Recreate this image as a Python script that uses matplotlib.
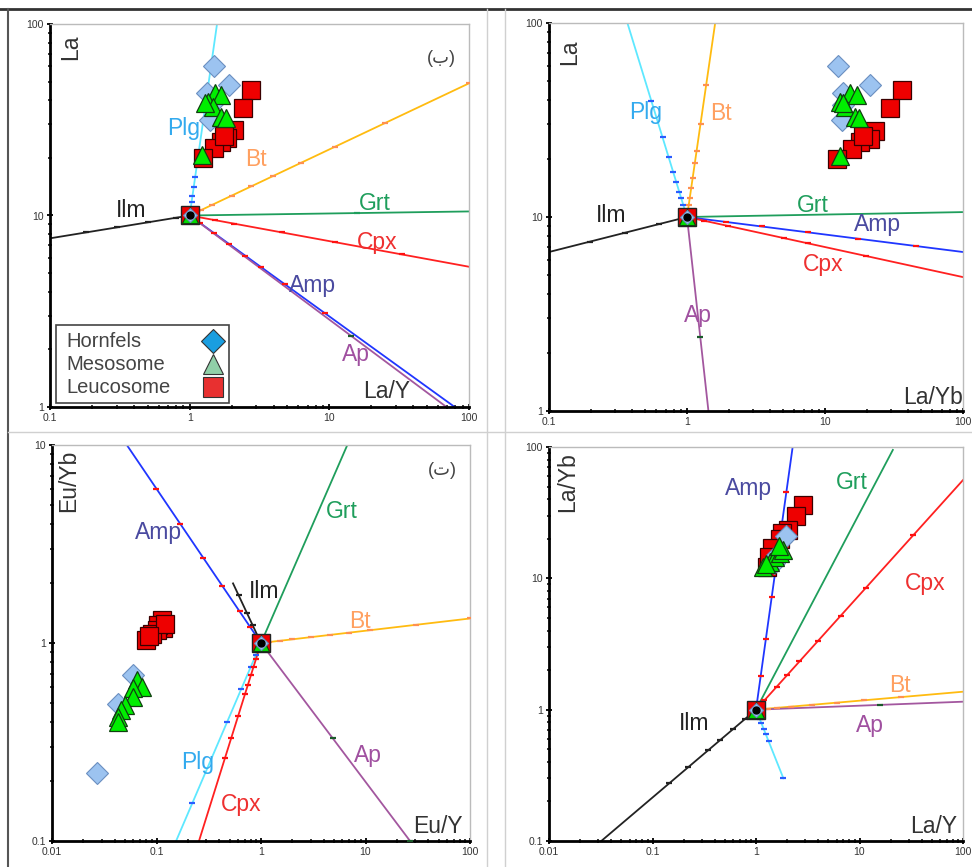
import numpy as np
import matplotlib
matplotlib.use("Agg")
import matplotlib.pyplot as plt
from matplotlib.lines import Line2D
from matplotlib.patches import Rectangle

plt.rcParams["font.family"] = ["Liberation Sans", "DejaVu Sans"]

# ---- sample data -------------------------------------------------------
# panels (a) and (b) share La
HORN_LA = [60, 48, 43.5, 31.5, 38]
MESO_LA = [43.5, 39.3, 42.6, 37, 32.8, 32.3, 20.7, 38.7]
LEUCO_LA = [45.2, 36.3, 27.9, 25.3, 24.3, 22.4, 19.9, 26]

HORN_LAY = [1.49, 1.92, 1.32, 1.40, 1.45]
MESO_LAY = [1.52, 1.36, 1.67, 1.48, 1.69, 1.82, 1.22, 1.29]
LEUCO_LAY = [2.74, 2.42, 2.08, 1.86, 1.69, 1.49, 1.25, 1.75]

HORN_LAYB = [12.5, 21.2, 13.4, 13.2, 13.5]
MESO_LAYB = [15.2, 12.9, 17.0, 14.0, 16.5, 17.5, 12.9, 13.5]
LEUCO_LAYB = [36, 29.6, 23, 21.2, 18, 15.6, 12.2, 19]

# panel (c): Eu/Y vs Eu/Yb
HORN_EUY = [0.027, 0.060, 0.043]
HORN_EUYB = [0.22, 0.69, 0.49]
MESO_EUY = [0.065, 0.072, 0.060, 0.060, 0.050, 0.046, 0.043, 0.043]
MESO_EUYB = [0.65, 0.60, 0.59, 0.536, 0.486, 0.46, 0.425, 0.40]
LEUCO_EUY = [0.112, 0.116, 0.104, 0.100, 0.090, 0.079, 0.12, 0.085]
LEUCO_EUYB = [1.31, 1.19, 1.23, 1.16, 1.11, 1.03, 1.25, 1.08]

# panel (d): La/Y vs La/Yb
HORN_D_X = [1.95, 1.6, 1.5]
HORN_D_Y = [21, 15, 13]
MESO_D_X = [1.18, 1.36, 1.53, 1.71, 1.84, 1.65, 1.25]
MESO_D_Y = [12.3, 13.4, 14.6, 15.5, 16.4, 17.5, 12.8]
LEUCO_D_X = [2.82, 2.43, 2.05, 1.77, 1.70, 1.42, 1.27, 1.35]
LEUCO_D_Y = [36.2, 29.9, 23.4, 22, 20, 16.9, 12.3, 14.5]

# ---- mineral vectors: start point and end point --------------------------
ORIGIN_A = (1, 10)
VEC_A = {"Plg": (1.57, 100), "Bt": (100, 49), "Grt": (100, 10.5),
         "Cpx": (100, 5.4), "Amp": (79, 1), "Ap": (69, 1), "Ilm": (0.1, 7.6)}
ORIGIN_B = (1, 10)
VEC_B = {"Plg": (0.37, 100), "Bt": (1.6, 100), "Grt": (100, 10.6),
         "Amp": (100, 6.6), "Cpx": (100, 4.9), "Ap": (1.43, 1), "Ilm": (0.1, 6.6)}
ORIGIN_C = (1, 1)
VEC_C = {"Amp": (0.052, 10), "Grt": (6.7, 10), "Ilm": (0.54, 2.0),
         "Bt": (100, 1.33), "Ap": (26.7, 0.1), "Plg": (0.154, 0.1), "Cpx": (0.255, 0.1)}
ORIGIN_D = (1, 1)
VEC_D = {"Amp": (2.26, 100), "Grt": (21, 95), "Cpx": (100, 56),
         "Bt": (100, 1.37), "Ap": (100, 1.15), "Ilm": (0.032, 0.1), "Plg": (1.84, 0.3)}

# small step marks along the vectors (fraction of vector length, log space)
MARKS_A = {"Bt": [.04, .08, .15, .22, .30, .40, .52, .70, 1.0],
           "Plg": [.04, .07, .10, .15, .20, .27],
           "Amp": [.04, .09, .15, .21, .27, .36, .51],
           "Ap": [.63],
           "Cpx": [.09, .16, .33, .52, .76],
           "Ilm": [.1, .3, .52, .74],
           "Grt": [.6]}
MARKS_B = {"Plg": [.06, .10, .13, .18, .23, .31, .41, .60],
           "Bt": [.06, .10, .15, .20, .28, .34, .48, .68],
           "Amp": [.14, .27, .44, .62, .83],
           "Cpx": [.06, .15, .35, .44, .65],
           "Ap": [.62],
           "Ilm": [.2, .45, .7]}
MARKS_C = {"Amp": [.08, .16, .29, .43, .60, .78],
           "Ilm": [.3, .5, .8],
           "Bt": [.04, .09, .15, .24, .33, .42, .52, .74, 1.0],
           "Plg": [.06, .12, .23, .40, .81],
           "Cpx": [.08, .12, .16, .21, .26, .37, .48, .58],
           "Ap": [.48, 1.0]}
MARKS_D = {"Amp": [.13, .27, .43, .83],
           "Cpx": [.04, .10, .15, .21, .30, .41, .53, .76],
           "Bt": [.06, .10, .17, .27, .39, .52, .70],
           "Ap": [.6],
           "Ilm": [.07, .15, .23, .31, .44, .56],
           "Plg": [.08, .14, .2, .28, .36, .46, 1.0]}

LINE_COL = {"Plg": "#5ee8ff", "Bt": "#ffbb10", "Grt": "#1f9e5c", "Cpx": "#ff2020",
            "Amp": "#2036ff", "Ap": "#a3579f", "Ilm": "#222222"}
MARK_COL = {"Plg": "#2a5cff", "Bt": "#ff9050", "Grt": "#1f9e5c", "Cpx": "#ff1010",
            "Amp": "#ff1010", "Ap": "#1a5a2a", "Ilm": "#222222"}
TEXT_COL = {"Plg": "#33aaee", "Bt": "#ffa060", "Grt": "#1f9e5c", "Cpx": "#ee3030",
            "Amp": "#4a4aa0", "Ap": "#a050a0", "Ilm": "#222222"}

fig = plt.figure(figsize=(9.72, 8.67), dpi=100)

# page decorations (frame and panel separators)
fig.add_artist(Line2D([0, 1], [1 - 9 / 867] * 2, color="#333333", lw=2))
fig.add_artist(Line2D([8 / 972] * 2, [0, 1 - 9 / 867], color="#555555", lw=1.5))
for xp in (487, 505):
    fig.add_artist(Line2D([xp / 972] * 2, [0, 1 - 9 / 867], color="#d0d0d0", lw=1))
fig.add_artist(Line2D([8 / 972, 1], [1 - 432 / 867] * 2, color="#d0d0d0", lw=1))


def setup(ax, xlim, ylim, xt, yt):
    ax.set_xscale("log")
    ax.set_yscale("log")
    ax.set_xlim(*xlim)
    ax.set_ylim(*ylim)
    ax.set_xticks(xt, [("%g" % v) for v in xt])
    ax.set_yticks(yt, [("%g" % v) for v in yt])
    for s in ("left", "bottom"):
        ax.spines[s].set_linewidth(2)
        ax.spines[s].set_color("black")
    for s in ("top", "right"):
        ax.spines[s].set_linewidth(1)
        ax.spines[s].set_color("#bbbbbb")
    ax.tick_params(which="major", direction="inout", length=5, width=1.3,
                   labelsize=7.5, labelcolor="#333333", pad=2)
    ax.tick_params(which="minor", direction="inout", length=3, width=1.1)


def vectors(ax, origin, vecs, marks):
    x0, y0 = origin
    for name, (x1, y1) in vecs.items():
        ax.plot([x0, x1], [y0, y1], color=LINE_COL[name], lw=1.3, zorder=2)
        f = np.array(marks.get(name, []))
        if len(f):
            mx = x0 * (x1 / x0) ** f
            my = y0 * (y1 / y0) ** f
            ax.plot(mx, my, ls="none", marker="_", ms=5, mew=1.6,
                    color=MARK_COL[name], zorder=3)


def samples(ax, hx, hy, mx, my, lx, ly, origin):
    ax.plot(lx, ly, "s", ms=13, mfc="#ee0000", mec="#3a0000", mew=0.9, ls="none", zorder=4)
    ax.plot(hx, hy, "D", ms=11, mfc="#9cc3f0", mec="#6a8fc0", mew=0.8, ls="none", zorder=5)
    ax.plot(mx, my, "^", ms=13, mfc="#00ee00", mec="#104010", mew=0.9, ls="none", zorder=6)
    ox, oy = origin
    ax.plot([ox], [oy], "s", ms=13, mfc="#ee0000", mec="#222222", mew=1, zorder=7)
    ax.plot([ox], [oy], "^", ms=12, mfc="#00dd00", mec="#104010", mew=0.8, zorder=7)
    ax.plot([ox], [oy], "D", ms=7, mfc="#9cc3f0", mec="#6a8fc0", mew=0.8, zorder=7)
    ax.plot([ox], [oy], "o", ms=5, mfc="black", mec="black", zorder=8)


def labels(ax, pos):
    for name, (x, y) in pos.items():
        ax.text(x, y, name, color=TEXT_COL[name], fontsize=16.5,
                ha="center", va="center", zorder=9)


def axtext(ax, xlab, xpos, ylab, ypos):
    ax.text(*xpos, xlab, transform=ax.transAxes, fontsize=16.5, color="#333333",
            ha="center", va="center")
    ax.text(*ypos, ylab, transform=ax.transAxes, fontsize=16.5, color="#333333",
            ha="center", va="center", rotation=90)


# ---- (a) La/Y vs La ------------------------------------------------------
ax1 = fig.add_axes([50 / 972, 1 - 407 / 867, 419 / 972, 383 / 867])
setup(ax1, (0.1, 100), (1, 100), [0.1, 1, 10, 100], [1, 10, 100])
vectors(ax1, ORIGIN_A, VEC_A, MARKS_A)
samples(ax1, HORN_LAY, HORN_LA, MESO_LAY, MESO_LA, LEUCO_LAY, LEUCO_LA, ORIGIN_A)
labels(ax1, {"Plg": (0.9, 28.5), "Bt": (3.0, 19.5), "Grt": (21, 11.5),
             "Cpx": (22, 7.2), "Amp": (7.6, 4.3), "Ap": (15.5, 1.87), "Ilm": (0.38, 10.6)})
axtext(ax1, "La/Y", (0.804, 0.04), "La", (0.05, 0.94))
ax1.text(0.935, 0.91, "(ب)", transform=ax1.transAxes, fontsize=13, color="#444444",
         ha="center", va="center")

# legend box drawn by hand
ax1.add_patch(Rectangle((0.014, 0.01), 0.413, 0.204, transform=ax1.transAxes,
                        fill=True, fc="white", ec="#444444", lw=1.2, zorder=10))
leg_names = ["Hornfels", "Mesosome", "Leucosome"]
leg_style = [("D", 12, "#1a9ee0", "#333333"), ("^", 14, "#90d0a8", "#333333"),
             ("s", 14, "#e83030", "#333333")]
for i, (nm, (mk, ms, fc, ec)) in enumerate(zip(leg_names, leg_style)):
    yy = 0.172 - i * 0.06
    ax1.text(0.04, yy, nm, transform=ax1.transAxes, fontsize=14.5, color="#444444",
             ha="left", va="center", zorder=11)
    ax1.plot([0.39], [yy], mk, ms=ms, mfc=fc, mec=ec, mew=0.8,
             transform=ax1.transAxes, zorder=11, clip_on=False)

# ---- (b) La/Yb vs La -----------------------------------------------------
ax2 = fig.add_axes([549 / 972, 1 - 411 / 867, 414 / 972, 388 / 867])
setup(ax2, (0.1, 100), (1, 100), [0.1, 1, 10, 100], [1, 10, 100])
vectors(ax2, ORIGIN_B, VEC_B, MARKS_B)
samples(ax2, HORN_LAYB, HORN_LA, MESO_LAYB, MESO_LA, LEUCO_LAYB, LEUCO_LA, ORIGIN_B)
labels(ax2, {"Plg": (0.5, 34.5), "Bt": (1.75, 34), "Grt": (8.2, 11.5),
             "Amp": (24, 9.1), "Cpx": (9.7, 5.7), "Ap": (1.21, 3.1), "Ilm": (0.28, 10.2)})
axtext(ax2, "La/Yb", (0.928, 0.036), "La", (0.05, 0.925))

# ---- (c) Eu/Y vs Eu/Yb ---------------------------------------------------
ax3 = fig.add_axes([52 / 972, 1 - 841 / 867, 418 / 972, 396 / 867])
setup(ax3, (0.01, 100), (0.1, 10), [0.01, 0.1, 1, 10, 100], [0.1, 1, 10])
vectors(ax3, ORIGIN_C, VEC_C, MARKS_C)
samples(ax3, HORN_EUY, HORN_EUYB, MESO_EUY, MESO_EUYB, LEUCO_EUY, LEUCO_EUYB, ORIGIN_C)
labels(ax3, {"Amp": (0.104, 3.6), "Grt": (5.9, 4.6), "Ilm": (1.08, 1.82),
             "Bt": (8.9, 1.28), "Ap": (10.6, 0.27), "Plg": (0.25, 0.25), "Cpx": (0.65, 0.152)})
axtext(ax3, "Eu/Y", (0.923, 0.036), "Eu/Yb", (0.04, 0.91))
ax3.text(0.935, 0.935, "(ت)", transform=ax3.transAxes, fontsize=13, color="#444444",
         ha="center", va="center")

# ---- (d) La/Y vs La/Yb ---------------------------------------------------
ax4 = fig.add_axes([549 / 972, 1 - 841 / 867, 414 / 972, 394 / 867])
setup(ax4, (0.01, 100), (0.1, 100), [0.01, 0.1, 1, 10, 100], [0.1, 1, 10, 100])
vectors(ax4, ORIGIN_D, VEC_D, MARKS_D)
samples(ax4, HORN_D_X, HORN_D_Y, MESO_D_X, MESO_D_Y, LEUCO_D_X, LEUCO_D_Y, ORIGIN_D)
labels(ax4, {"Amp": (0.84, 48), "Grt": (8.4, 54), "Cpx": (43, 9.2),
             "Bt": (24.6, 1.54), "Ap": (12.6, 0.76), "Ilm": (0.25, 0.79)})
axtext(ax4, "La/Y", (0.928, 0.036), "La/Yb", (0.046, 0.91))

fig.savefig("out.png", dpi=100)
